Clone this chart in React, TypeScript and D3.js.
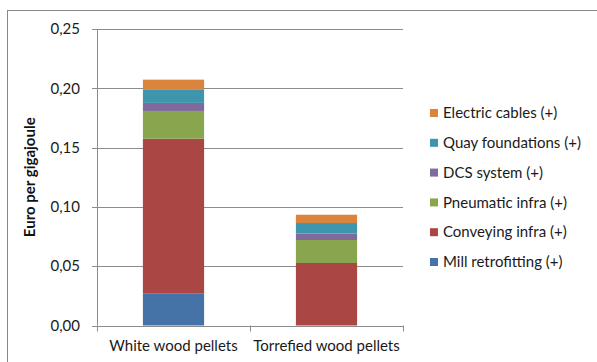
import React from "react";
import * as d3 from "d3";

// Stacked cost components (Euro per gigajoule), bottom to top
const categories = ["White wood pellets", "Torrefied wood pellets"];
const seriesNames = [
  "Mill retrofitting (+)",
  "Conveying infra (+)",
  "Pneumatic infra (+)",
  "DCS system (+)",
  "Quay foundations (+)",
  "Electric cables (+)",
];
const millRetrofitting = [0.0268, 0.0];
const conveyingInfra = [0.1307, 0.0527];
const pneumaticInfra = [0.0234, 0.0194];
const dcsSystem = [0.0068, 0.0055];
const quayFoundations = [0.0115, 0.0088];
const electricCables = [0.0081, 0.007];
const yTicks = [0, 0.05, 0.1, 0.15, 0.2, 0.25];

const colors = ["#4572A7", "#AA4643", "#89A54E", "#80699B", "#3D96AE", "#DB843D"];

const W = 597;
const H = 362;
const plot = { left: 97, right: 403, top: 29, bottom: 325.5 };
const font = "Lato, 'Open Sans', sans-serif";
const fs = 15;

export default function App() {
  const seriesValues = [
    millRetrofitting,
    conveyingInfra,
    pneumaticInfra,
    dcsSystem,
    quayFoundations,
    electricCables,
  ];
  const rows = categories.map((c, i) => {
    const r: Record<string, any> = { category: c };
    seriesNames.forEach((s, k) => (r[s] = seriesValues[k][i]));
    return r;
  });
  const stacked = d3.stack<any>().keys(seriesNames)(rows);

  const x = d3
    .scaleBand<string>()
    .domain(categories)
    .range([plot.left, plot.right])
    .paddingInner(0.6)
    .paddingOuter(0.3);
  const y = d3.scaleLinear().domain([0, 0.25]).range([plot.bottom, plot.top]);
  const fmt = (v: number) => d3.format(".2f")(v).replace(".", ",");

  const step = (plot.right - plot.left) / categories.length;
  const catTicks = d3.range(categories.length + 1).map((i) => plot.left + i * step);
  const gridColor = "#8c8c8c";

  return (
    <svg width={W} height={H} style={{ position: "absolute", left: 0, top: 0, background: "#fff" }}>
      <rect x={7.5} y={10.5} width={620} height={400} fill="#fff" stroke="#888" strokeWidth={1} />

      {/* gridlines */}
      {yTicks.map((t) => (
        <line key={t} x1={plot.left} x2={plot.right} y1={Math.round(y(t)) + 0.5} y2={Math.round(y(t)) + 0.5} stroke={gridColor} strokeWidth={1} />
      ))}

      {/* y axis */}
      <line x1={plot.left + 0.5} x2={plot.left + 0.5} y1={plot.top} y2={plot.bottom} stroke={gridColor} />
      {yTicks.map((t) => (
        <g key={"yt" + t}>
          <line x1={plot.left - 5} x2={plot.left} y1={Math.round(y(t)) + 0.5} y2={Math.round(y(t)) + 0.5} stroke={gridColor} />
          <text x={plot.left - 17} y={y(t)} dy="0.35em" textAnchor="end" fontFamily={font} fontSize={fs} fill="#1a1a1a">
            {fmt(t)}
          </text>
        </g>
      ))}
      <text
        transform={`translate(30,${(plot.top + plot.bottom) / 2}) rotate(-90)`}
        textAnchor="middle"
        dy="0.35em"
        fontFamily={font}
        fontSize={fs}
        fontWeight="bold"
        fill="#111"
      >
        Euro per gigajoule
      </text>

      {/* bars */}
      {stacked.map((layer, k) => (
        <g key={layer.key} fill={colors[k]}>
          {layer.map((d, i) => {
            const h = y(d[0]) - y(d[1]);
            if (h <= 0) return null;
            return <rect key={i} x={x(categories[i])} y={y(d[1])} width={x.bandwidth()} height={h} />;
          })}
        </g>
      ))}

      {/* x axis */}
      <line x1={plot.left} x2={plot.right} y1={Math.round(plot.bottom) + 0.5} y2={Math.round(plot.bottom) + 0.5} stroke={gridColor} />
      {catTicks.map((t, i) => (
        <line key={"xt" + i} x1={Math.round(t) + 0.5} x2={Math.round(t) + 0.5} y1={plot.bottom} y2={plot.bottom + 6} stroke={gridColor} />
      ))}
      {categories.map((c) => (
        <text key={c} x={x(c)! + x.bandwidth() / 2} y={346} dy="0.35em" textAnchor="middle" fontFamily={font} fontSize={fs} fill="#1a1a1a">
          {c}
        </text>
      ))}

      {/* legend, top entry is the top of the stack */}
      {seriesNames
        .map((s, k) => ({ s, k }))
        .reverse()
        .map(({ s, k }, i) => {
          const cy = 113 + i * 29.8;
          return (
            <g key={s}>
              <rect x={430} y={cy - 4} width={8} height={8} fill={colors[k]} />
              <text x={443} y={cy} dy="0.35em" fontFamily={font} fontSize={fs} fill="#1a1a1a">
                {s}
              </text>
            </g>
          );
        })}
    </svg>
  );
}
